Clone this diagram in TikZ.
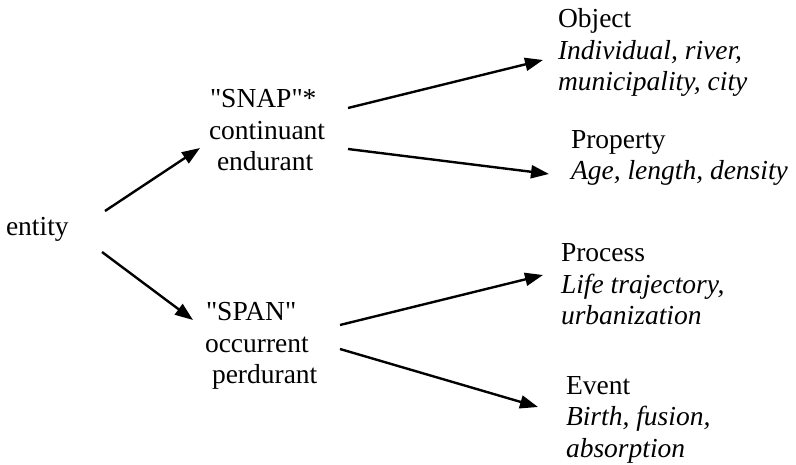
\documentclass[tikz,border=0pt]{standalone}
\usepackage{fontspec}
\setmainfont{Liberation Serif}[Ligatures=TeXOff]
\usetikzlibrary{arrows.meta}
\begin{document}
\begin{tikzpicture}[x=1pt,y=-1pt,
  lbl/.style={inner sep=0pt,outer sep=0pt,anchor=base west,align=left,
    font=\fontsize{27.5}{31.5}\selectfont},
  arr/.style={line width=2.4pt,-{Triangle[length=18pt,width=13pt]}}]
\useasboundingbox (0,0) rectangle (796,465);

% left root
\node[lbl] (entity) at (6,236) {entity};

% middle categories (anchored at the baseline of the last line)
\node[lbl] (snap) at (209,171) {\hspace*{1pt}"SNAP"*\\continuant\\\hspace*{8pt}endurant};
\node[lbl] (span) at (205,384) {\hspace*{1pt}"SPAN"\\occurrent\\\hspace*{7pt}perdurant};

% right categories with examples
\node[lbl] (object) at (558,91) {Object\\\textit{Individual, river,}\\\textit{municipality, city}};
\node[lbl] (property) at (571,180) {Property\\\textit{Age, length, density}};
\node[lbl] (process) at (561,325) {Process\\\textit{Life trajectory,}\\\textit{urbanization}};
\node[lbl] (event) at (566,457) {Event\\\textit{Birth, fusion,}\\\textit{absorption}};

% connector end points
\coordinate (e1) at (105,211);
\coordinate (s1) at (200,148);
\coordinate (e2) at (102,252);
\coordinate (p1) at (193,320);
\coordinate (s2) at (348,108);
\coordinate (o1) at (543,60);
\coordinate (s3) at (348,149);
\coordinate (q1) at (549,174);
\coordinate (p2) at (340,325);
\coordinate (r1) at (543,275);
\coordinate (p3) at (340,349);
\coordinate (v1) at (538,407);

\draw[arr] (e1) -- (s1);
\draw[arr] (e2) -- (p1);
\draw[arr] (s2) -- (o1);
\draw[arr] (s3) -- (q1);
\draw[arr] (p2) -- (r1);
\draw[arr] (p3) -- (v1);
\end{tikzpicture}
\end{document}
